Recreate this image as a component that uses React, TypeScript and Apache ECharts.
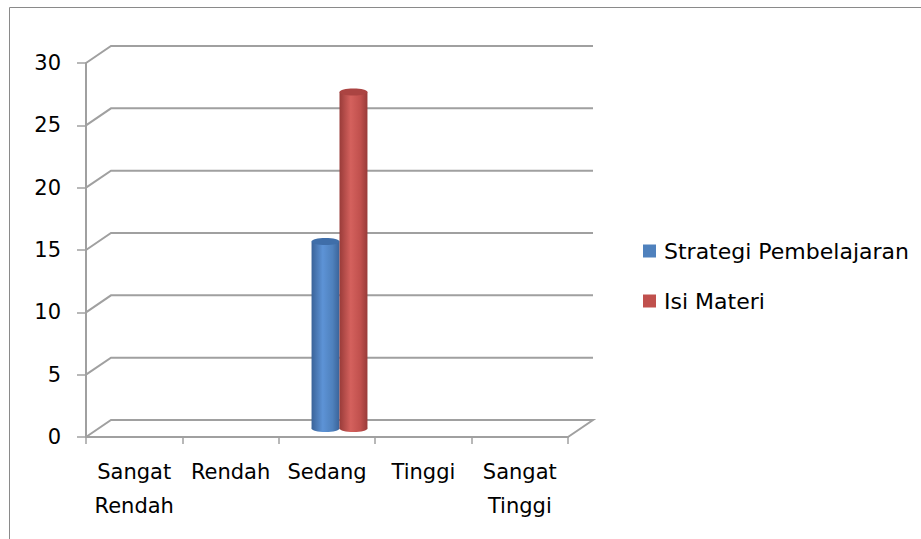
import { useEffect, useRef } from "react";
import * as echarts from "echarts";

// Category axis labels (two-line names are split with \n)
const categories = ["Sangat\nRendah", "Rendah", "Sedang", "Tinggi", "Sangat\nTinggi"];
// Series values per category
const strategiPembelajaran = [0, 0, 15, 0, 0];
const isiMateri = [0, 0, 27, 0, 0];
// Value axis ticks
const yTicks = [0, 5, 10, 15, 20, 25, 30];

// Fake 3D depth of the back wall, in pixels
const DEPTH_X = 25;
const DEPTH_Y = -17;
const FONT = "DejaVu Sans";
const GRID_COLOR = "#a0a0a0";

type CylStyle = { name: string; base: string; dark: string; light: string; cap: string };

const styles: CylStyle[] = [
  { name: "Strategi Pembelajaran", base: "#4f81bd", dark: "#3a6399", light: "#5d93d6", cap: "#3f6ea9" },
  { name: "Isi Materi", base: "#c0504d", dark: "#993b39", light: "#d4615d", cap: "#ab4442" },
];

function bodyGradient(s: CylStyle) {
  return new echarts.graphic.LinearGradient(0, 0, 1, 0, [
    { offset: 0, color: s.dark },
    { offset: 0.4, color: s.light },
    { offset: 0.75, color: s.base },
    { offset: 1, color: s.dark },
  ]);
}

// Draws one cylinder per data item, positioned at mid depth of the 3D box
function cylinderRenderer(slot: number, s: CylStyle) {
  return (params: any, api: any) => {
    const cat = api.value(0);
    const val = api.value(1);
    if (!val) return null;
    const band = api.size([1, 0])[0];
    const w = band * 0.29;
    const top = api.coord([cat, val]);
    const base = api.coord([cat, 0]);
    const cx = top[0] + (slot === 0 ? -w / 2 : w / 2) + DEPTH_X / 2;
    const yTop = top[1] + DEPTH_Y / 2;
    const yBase = base[1] + DEPTH_Y / 2;
    const rx = w / 2;
    const ry = 3.5;
    return {
      type: "group",
      children: [
        { type: "ellipse", shape: { cx, cy: yBase, rx, ry }, style: { fill: bodyGradient(s) } },
        { type: "rect", shape: { x: cx - rx, y: yTop, width: w, height: yBase - yTop }, style: { fill: bodyGradient(s) } },
        { type: "ellipse", shape: { cx, cy: yTop, rx, ry }, style: { fill: s.cap } },
      ],
    };
  };
}

// Back wall gridlines with their diagonal connectors, plus the floor edge
function frameRenderer(params: any, api: any) {
  const cs = params.coordSys;
  const v = api.value(1);
  const y = api.coord([0, v])[1];
  const x0 = cs.x;
  const x1 = cs.x + cs.width;
  const points: number[][] = [
    [x0, y],
    [x0 + DEPTH_X, y + DEPTH_Y],
    [x1 + DEPTH_X, y + DEPTH_Y],
  ];
  if (v === 0) points.push([x1, y]);
  return {
    type: "polyline",
    shape: { points },
    style: { stroke: GRID_COLOR, lineWidth: 2, fill: null },
  };
}

export default function App() {
  const ref = useRef<HTMLDivElement>(null);

  useEffect(() => {
    if (!ref.current) return;
    const chart = echarts.init(ref.current, null, { renderer: "svg" });
    chart.setOption({
      animation: false,
      backgroundColor: "#ffffff",
      textStyle: { fontFamily: FONT },
      graphic: [
        {
          type: "rect",
          shape: { x: 9.5, y: 7.5, width: 1200, height: 1200 },
          style: { fill: "none", stroke: "#8a8a8a", lineWidth: 1 },
          silent: true,
        },
      ],
      grid: { left: 86, top: 63, right: 353, bottom: 102, containLabel: false },
      legend: {
        orient: "vertical",
        left: 643,
        top: 239,
        itemWidth: 13,
        itemHeight: 13,
        itemGap: 26,
        icon: "rect",
        padding: 0,
        data: styles.map((s) => s.name),
        textStyle: { fontFamily: FONT, fontSize: 22, color: "#000", lineHeight: 24, padding: [0, 0, 0, 3] },
      },
      xAxis: {
        type: "category",
        data: categories,
        boundaryGap: true,
        axisLine: { show: true, lineStyle: { color: GRID_COLOR, width: 2 } },
        axisTick: { show: true, length: 7, alignWithLabel: false, lineStyle: { color: GRID_COLOR, width: 1.5 } },
        axisLabel: {
          interval: 0,
          margin: 18,
          fontFamily: FONT,
          fontSize: 21,
          lineHeight: 34,
          color: "#000",
          align: "center",
        },
        splitLine: { show: false },
      },
      yAxis: {
        type: "value",
        min: 0,
        max: 30,
        interval: 5,
        axisLine: { show: true, lineStyle: { color: GRID_COLOR, width: 2 } },
        axisTick: { show: true, length: 9, lineStyle: { color: GRID_COLOR, width: 1.5 } },
        axisLabel: { margin: 25, fontFamily: FONT, fontSize: 21, color: "#000" },
        splitLine: { show: false },
      },
      series: [
        {
          type: "custom",
          silent: true,
          z: 1,
          renderItem: frameRenderer,
          data: yTicks.map((v) => [0, v]),
        },
        {
          type: "custom",
          name: styles[0].name,
          z: 2,
          itemStyle: { color: styles[0].base },
          renderItem: cylinderRenderer(0, styles[0]),
          data: strategiPembelajaran.map((v, i) => [i, v]),
        },
        {
          type: "custom",
          name: styles[1].name,
          z: 3,
          itemStyle: { color: styles[1].base },
          renderItem: cylinderRenderer(1, styles[1]),
          data: isiMateri.map((v, i) => [i, v]),
        },
      ],
    });
    return () => chart.dispose();
  }, []);

  return (
    <div
      ref={ref}
      style={{ position: "absolute", left: 0, top: 0, width: 921, height: 539 }}
    />
  );
}
